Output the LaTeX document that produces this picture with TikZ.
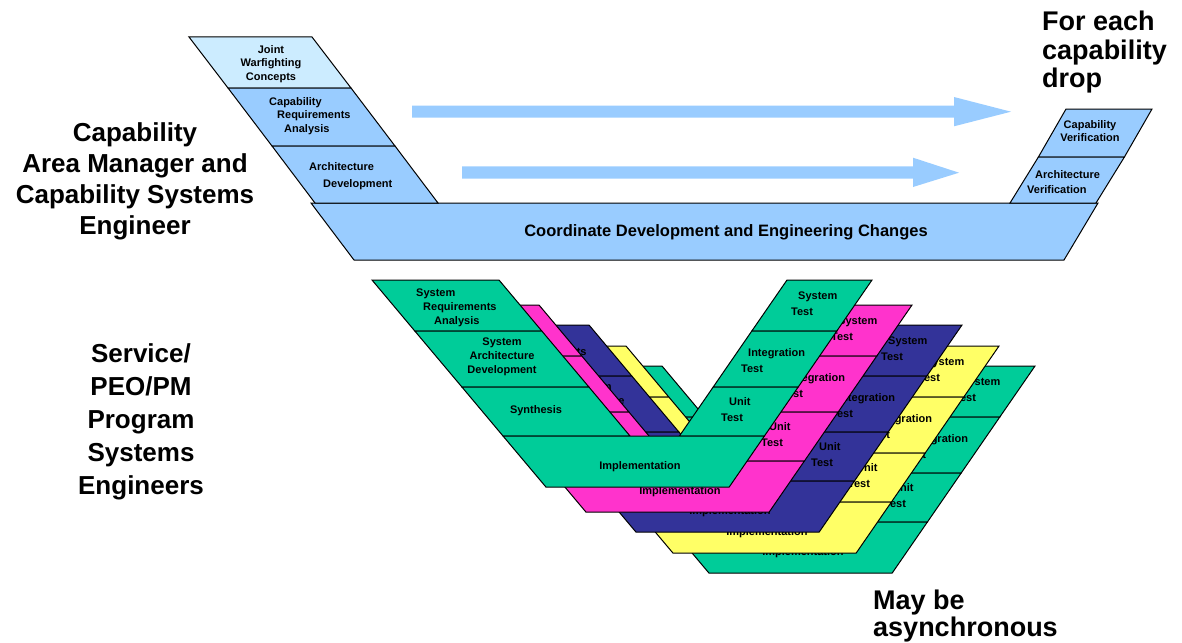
\documentclass[tikz,border=0pt]{standalone}
\usepackage{fontspec}
\setmainfont{Liberation Sans}
\definecolor{lb}{HTML}{99CCFF}
\definecolor{vlb}{HTML}{CCECFF}
\definecolor{gr}{HTML}{00CC99}
\definecolor{mg}{HTML}{FF33CC}
\definecolor{nv}{HTML}{333399}
\definecolor{yl}{HTML}{FFFF66}
\tikzset{
  cell/.style={draw=black, line width=1pt, line join=miter},
  sm/.style={font=\fontsize{11}{14}\selectfont\bfseries, inner sep=0pt},
  smt/.style={font=\fontsize{11}{16}\selectfont\bfseries, inner sep=0pt},
  big/.style={font=\fontsize{26}{31}\selectfont\bfseries, inner sep=0pt},
  blockarrow/.style={fill=lb, draw=none},
}
\newcommand\vlayer[4]{%
\begin{scope}[shift={(#1,#2)}]
  \draw[cell,fill=#3] (372,280) -- (499,280) -- (541.8,331) -- (414.8,331) -- cycle;
  \draw[cell,fill=#3] (414.8,331) -- (541.8,331) -- (588.9,387) -- (461.9,387) -- cycle;
  \draw[cell,fill=#3] (461.9,387) -- (588.9,387) -- (630,436) -- (503,436) -- cycle;
  \draw[cell,fill=#3] (787,280) -- (872,280) -- (836.8,331) -- (751.8,331) -- cycle;
  \draw[cell,fill=#3] (751.8,331) -- (836.8,331) -- (798.2,387) -- (713.2,387) -- cycle;
  \draw[cell,fill=#3] (713.2,387) -- (798.2,387) -- (764.4,436) -- (679.4,436) -- cycle;
  \draw[cell,fill=#3] (503,436) -- (764.4,436) -- (729.2,487) -- (545.9,487) -- cycle;
  \node[sm, align=left, anchor=north west] (#4sra) at (416,289) {System\\\hspace*{7pt}Requirements\\\hspace*{18pt}Analysis};
  \node[sm, align=center] (#4sad) at (502,357) {System\\Architecture\\Development};
  \node[sm] (#4syn) at (536,411) {Synthesis};
  \node[sm] (#4imp) at (640,467) {Implementation};
  \node[smt, align=left, anchor=north west] (#4st) at (791,292) {\hspace*{7pt}System\\Test};
  \node[smt, align=left, anchor=north west] (#4it) at (741,348) {\hspace*{7pt}Integration\\Test};
  \node[smt, align=left, anchor=north west] (#4ut) at (721,397) {\hspace*{8pt}Unit\\Test};
\end{scope}}
\begin{document}
\begin{tikzpicture}[x=1pt,y=-1pt]
\useasboundingbox (0,0) rectangle (1182,642);
% ---- top V ----
\draw[cell,fill=lb] (311,203) -- (1098,203) -- (1064,260) -- (354,260) -- cycle;
\draw[cell,fill=vlb] (189,37) -- (312,37) -- (351,88) -- (228,88) -- cycle;
\draw[cell,fill=lb] (228,88) -- (351,88) -- (395,146) -- (272,146) -- cycle;
\draw[cell,fill=lb] (272,146) -- (395,146) -- (438,203) -- (315,203) -- cycle;
\draw[cell,fill=lb] (1066,109) -- (1152,109) -- (1124.4,157) -- (1038.4,157) -- cycle;
\draw[cell,fill=lb] (1038.4,157) -- (1124.4,157) -- (1096,203) -- (1010,203) -- cycle;
\node[font=\fontsize{11}{13.5}\selectfont\bfseries, inner sep=0pt, align=center] (jwc) at (271,64) {Joint\\Warfighting\\Concepts};
\node[font=\fontsize{11}{13.5}\selectfont\bfseries, inner sep=0pt, align=left, anchor=north west] (cra) at (269,97) {Capability\\\hspace*{8pt}Requirements\\\hspace*{15pt}Analysis};
\node[font=\fontsize{11}{17}\selectfont\bfseries, inner sep=0pt, align=left, anchor=north west] (ad) at (309,162) {Architecture\\\hspace*{14pt}Development};
\node[font=\fontsize{11}{13}\selectfont\bfseries, inner sep=0pt, align=center] (cv) at (1090,131) {Capability\\Verification};
\node[font=\fontsize{11}{15}\selectfont\bfseries, inner sep=0pt, align=left, anchor=north west] (av) at (1027,170) {\hspace*{8pt}Architecture\\Verification};
\node[font=\fontsize{16.5}{20}\selectfont\bfseries, inner sep=0pt] (cdec) at (726,232) {Coordinate Development and Engineering Changes};
% arrows
\fill[blockarrow] (412,105.7) -- (954,105.7) -- (954,97) -- (1011,111.7) -- (954,126.3) -- (954,117.7) -- (412,117.7) -- cycle;
\fill[blockarrow] (462,166.3) -- (913,166.3) -- (913,157.7) -- (959,172.7) -- (913,187) -- (913,178.7) -- (462,178.7) -- cycle;
% ---- bottom V stack ----
\vlayer{163}{86}{gr}{e}
\vlayer{127}{66}{yl}{d}
\vlayer{90}{45}{nv}{c}
\vlayer{40}{25}{mg}{b}
\vlayer{0}{0}{gr}{a}
% ---- big labels ----
\node[big, align=center] (cam) at (135,181) {Capability\\Area Manager and\\Capability Systems\\Engineer};
\node[big, font=\fontsize{26}{33}\selectfont\bfseries, align=center] (peo) at (141,422) {Service/\\PEO/PM\\Program\\Systems\\Engineers};
\node[big, font=\fontsize{27}{28.5}\selectfont\bfseries, align=left, anchor=north west] (drop) at (1042,11) {For each\\capability\\drop};
\node[big, font=\fontsize{27}{27}\selectfont\bfseries, align=left, anchor=north west] (async) at (873,590) {May be\\asynchronous};
\end{tikzpicture}
\end{document}
